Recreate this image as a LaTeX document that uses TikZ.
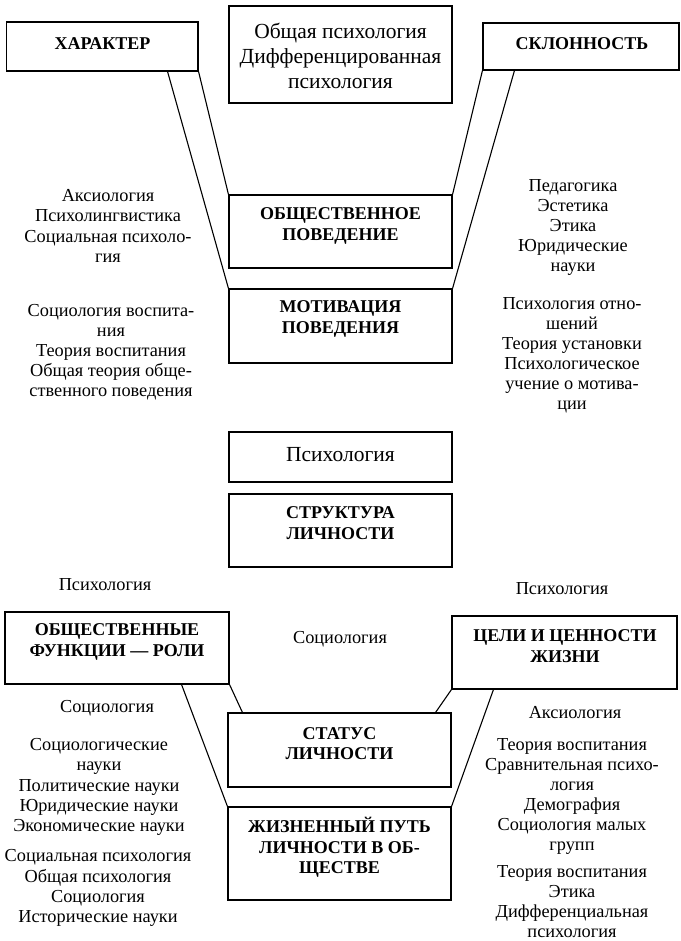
\documentclass[tikz,border=0pt]{standalone}
\usepackage{fontspec}
\setmainfont{Liberation Serif}
\usetikzlibrary{positioning}

\begin{document}
\begin{tikzpicture}[
                x=1pt, y=-1pt,
                box/.style={draw, line width=1.1pt, inner sep=0pt},
                boxtext/.style={align=center, inner sep=0pt, font=\bfseries\fontsize{18}{20.3}\selectfont},
                boxplain/.style={align=center, inner sep=0pt, font=\fontsize{21.5}{24.8}\selectfont},
                note/.style={align=center, inner sep=0pt, font=\fontsize{18.3}{20.1}\selectfont},
                link/.style={line width=1.1pt}
            ]
                \useasboundingbox (0,0) rectangle (680,941);

                % Top row
                \node[box, minimum width=191.5pt, minimum height=49pt] (har) at (102.25,46.5) {};
                \node[boxtext] (har-t) at (102.5,44) {ХАРАКТЕР};
                \node[box, minimum width=223pt, minimum height=97pt] (psy) at (340.5,54.5) {};
                \node[boxplain] (psy-t) at (340.5,56) {Общая психология\\Дифференцированная\\психология};
                \node[box, minimum width=196pt, minimum height=47pt] (skl) at (581,46.5) {};
                \node[boxtext] (skl-t) at (582,44) {СКЛОННОСТЬ};

                % Centre column
                \node[box, minimum width=223pt, minimum height=73pt] (obpov) at (340.5,231.5) {};
                \node[boxtext] (obpov-t) at (340.5,226) {ОБЩЕСТВЕННОЕ\\ПОВЕДЕНИЕ};
                \node[box, minimum width=223pt, minimum height=74pt] (motiv) at (340.5,326) {};
                \node[boxtext] (motiv-t) at (340.5,319) {МОТИВАЦИЯ\\ПОВЕДЕНИЯ};
                \node[box, minimum width=223pt, minimum height=50pt] (psych) at (340.5,457) {};
                \node[boxplain] (psych-t) at (340.5,455) {Психология};
                \node[box, minimum width=223pt, minimum height=73pt] (struct) at (340.5,530.5) {};
                \node[boxtext] (struct-t) at (340.5,523) {СТРУКТУРА\\ЛИЧНОСТИ};

                % Bottom part
                \node[box, minimum width=224pt, minimum height=72pt] (funk) at (117,648) {};
                \node[boxtext] (funk-t) at (117,642) {ОБЩЕСТВЕННЫЕ\\ФУНКЦИИ — РОЛИ};
                \node[box, minimum width=225pt, minimum height=73pt] (celi) at (564.5,652.5) {};
                \node[boxtext] (celi-t) at (565,646) {ЦЕЛИ И ЦЕННОСТИ\\ЖИЗНИ};
                \node[box, minimum width=223pt, minimum height=74pt] (status) at (339.5,750) {};
                \node[boxtext] (status-t) at (339.5,743.5) {СТАТУС\\ЛИЧНОСТИ};
                \node[box, minimum width=223pt, minimum height=93pt] (zhizn) at (339.5,853.5) {};
                \node[boxtext] (zhizn-t) at (339.5,847.5) {ЖИЗНЕННЫЙ ПУТЬ\\ЛИЧНОСТИ В ОБ-\\ЩЕСТВЕ};

                % Links
                \draw[link] (har.south east) -- (obpov.north west);
                \draw[link] ([xshift=-31pt]har.south east) -- (motiv.north west);
                \draw[link] (skl.south west) -- (obpov.north east);
                \draw[link] ([xshift=32pt]skl.south west) -- (motiv.north east);
                \draw[link] (funk.south east) -- ([xshift=15pt]status.north west);
                \draw[link] ([xshift=-48pt]funk.south east) -- (zhizn.north west);
                \draw[link] (celi.south west) -- ([xshift=-16pt]status.north east);
                \draw[link] ([xshift=42pt]celi.south west) -- (zhizn.north east);

                % Sciences, left
                \node[note] (l1) at (108,226) {Аксиология\\Психолингвистика\\Социальная психоло-\\гия};
                \node[note] (l2) at (111,352.5) {Социология воспита-\\ния\\Теория воспитания\\Общая теория обще-\\ственного поведения};
                \node[note] (l3) at (105,585) {Психология};
                \node[note] (l4) at (107,708) {Социология};
                \node[note] (l5) at (99,787) {Социологические\\науки\\Политические науки\\Юридические науки\\Экономические науки};
                \node[note] (l6) at (98,888) {Социальная психология\\Общая психология\\Социология\\Исторические науки};

                % Sciences, right
                \node[note] (r1) at (573,227.5) {Педагогика\\Эстетика\\Этика\\Юридические\\науки};
                \node[note] (r2) at (572,355.5) {Психология отно-\\шений\\Теория установки\\Психологическое\\учение о  мотива-\\ции};
                \node[note] (r3) at (562,589) {Психология};
                \node[note] (r4) at (575,713) {Аксиология};
                \node[note] (r5) at (572,796.5) {Теория воспитания\\Сравнительная психо-\\логия\\Демография\\Социология малых\\групп};
                \node[note] (r6) at (572,901.5) {Теория воспитания\\Этика\\Дифференциальная\\психология};

                % Middle
                \node[note] (m1) at (340,639) {Социология};
            \end{tikzpicture}
\end{document}
